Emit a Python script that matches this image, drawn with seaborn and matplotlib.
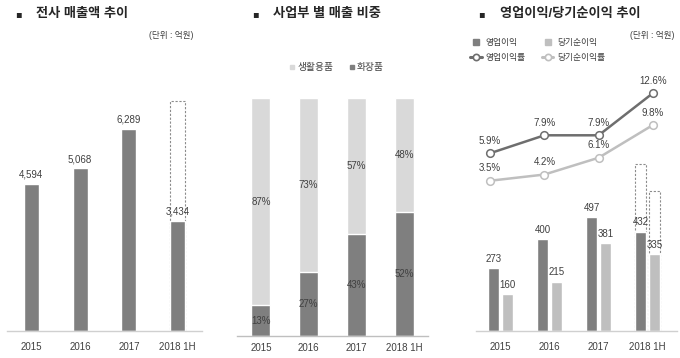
import numpy as np
import pandas as pd
import seaborn as sns
import matplotlib.pyplot as plt
from matplotlib.lines import Line2D

# data
years = ["2015", "2016", "2017", "2018 1H"]
sales = [4594, 5068, 6289, 3434]
sales_ghost = 7170          # dashed outline on 2018 1H

share_house = [87, 73, 57, 48]   # 생활용품
share_cosm = [13, 27, 43, 52]    # 화장품

op_profit = [273, 400, 497, 432]
net_profit = [160, 215, 381, 335]
op_ghost = 726
net_ghost = 609
op_margin = [5.9, 7.9, 7.9, 12.6]
net_margin = [3.5, 4.2, 6.1, 9.8]

DARK = "#7f7f7f"
LIGHT = "#d9d9d9"
MID = "#bfbfbf"
LINE_DARK = "#6e6e6e"
TXT = "#404040"
AXIS = "#d0d0d0"

sns.set_theme(style="white")
plt.rcParams["font.family"] = ["Liberation Sans", "Noto Sans CJK KR", "DejaVu Sans"]

W, H = 680, 358
fig = plt.figure(figsize=(6.8, 3.58), dpi=100)


def px_axes(x0, x1, y_top, y_bot):
    return fig.add_axes([x0 / W, 1 - y_bot / H, (x1 - x0) / W, (y_bot - y_top) / H])


def px_text(x, y, s, **kw):
    fig.text(x / W, 1 - y / H, s, **kw)


def clean(ax, spine_color=AXIS, pad=8):
    for side in ["left", "top", "right"]:
        ax.spines[side].set_visible(False)
    ax.spines["bottom"].set_color(spine_color)
    ax.spines["bottom"].set_linewidth(1)
    ax.set_yticks([])
    ax.set_xlabel("")
    ax.set_ylabel("")
    ax.tick_params(axis="x", length=0, pad=pad, labelsize=7, labelcolor=TXT)
    ax.patch.set_alpha(0)


# titles
titles = [(15, 36, "전사 매출액 추이"), (252, 273, "사업부 별 매출 비중"), (478, 500, "영업이익/당기순이익 추이")]
for bx, tx, t in titles:
    px_text(bx, 14, "▪", fontsize=7, color="#262626", va="center",
            family=["DejaVu Sans"])
    px_text(tx, 14, t, fontsize=9.5, fontweight="bold", color="#262626", va="center")

px_text(171, 35, "(단위 : 억원)", fontsize=6.2, color=TXT, ha="center", va="center")
px_text(652, 36, "(단위 : 억원)", fontsize=6.2, color=TXT, ha="center", va="center")

# 1. 전사 매출액
ax1 = px_axes(7, 202, 90, 331)
sns.barplot(x=years, y=sales, color=DARK, width=0.31, saturation=1, ax=ax1, zorder=2)
last = ax1.patches[-1]
ax1.bar(last.get_x() + last.get_width() / 2, sales_ghost, width=last.get_width(),
        fill=False, linestyle=(0, (2, 1.5)), edgecolor="#8c8c8c", linewidth=0.8, zorder=1)
ax1.bar_label(ax1.containers[0], labels=[f"{v:,}" for v in sales], padding=3,
              fontsize=7, color=TXT)
ax1.set_ylim(0, 7508)
ax1.set_xlim(-0.5, 3.5)
clean(ax1)

# 2. 사업부 별 매출 비중
ax2 = px_axes(237, 428, 98, 336)
total = [h + c for h, c in zip(share_house, share_cosm)]
sns.barplot(x=years, y=total, color=LIGHT, width=0.4, saturation=1, ax=ax2)
sns.barplot(x=years, y=share_cosm, color=DARK, width=0.4, saturation=1, ax=ax2)
ax2.bar_label(ax2.containers[1], labels=[f"{v}%" for v in share_cosm],
              label_type="center", fontsize=7, color=TXT)
for p, c, h in zip(ax2.containers[0], share_cosm, share_house):
    ax2.text(p.get_x() + p.get_width() / 2, c + h / 2, f"{h}%", ha="center",
             va="center", fontsize=7, color=TXT)
ax2.set_ylim(0, 100)
ax2.set_xlim(-0.5, 3.5)
clean(ax2, MID, pad=5)
ax2.set_xticks(np.arange(-0.5, 4, 1), minor=True)
ax2.tick_params(axis="x", which="minor", length=4, width=1, color=MID, direction="out")
h2 = [Line2D([], [], ls="", marker="s", markersize=3, color=LIGHT),
      Line2D([], [], ls="", marker="s", markersize=3, color=DARK)]
ax2.legend(h2, ["생활용품", "화장품"], loc="center", bbox_to_anchor=(337 / W, 1 - 67 / H),
           bbox_transform=fig.transFigure, ncol=2, frameon=False, fontsize=7,
           handlelength=0.5, handletextpad=0.3, columnspacing=1.6, labelcolor=TXT)

# 3. 영업이익 / 당기순이익
ax3 = px_axes(476, 677, 40, 331)
df3 = pd.DataFrame({"year": years * 2,
                    "value": op_profit + net_profit,
                    "kind": ["영업이익"] * 4 + ["당기순이익"] * 4})
sns.barplot(df3, x="year", y="value", hue="kind", palette=[DARK, MID], width=0.572,
            gap=0.21, saturation=1, ax=ax3, legend=False, zorder=2)
for cont, ghost in zip(ax3.containers, [op_ghost, net_ghost]):
    p = cont[-1]
    ax3.bar(p.get_x() + p.get_width() / 2, ghost, width=p.get_width(), fill=False,
            linestyle=(0, (2, 1.5)), edgecolor="#8c8c8c", linewidth=0.8, zorder=1)
for cont, vals in zip(ax3.containers[:2], [op_profit, net_profit]):
    ax3.bar_label(cont, labels=[str(v) for v in vals], padding=3, fontsize=7, color=TXT)
ax3.set_ylim(0, 1265)
ax3.set_xlim(-0.5, 3.6)
clean(ax3)

# margin lines on their own overlay axes
axA = px_axes(463, 680, 40, 331)
axB = px_axes(463, 680, 40, 331)
for axl, vals, col, lim in [(axA, op_margin, LINE_DARK, (-13.93, 18.53)),
                            (axB, net_margin, MID, (-13.5, 19.42))]:
    sns.lineplot(x=years, y=vals, sort=False, color=col, linewidth=1.8, marker="o",
                 markersize=5.5, markerfacecolor="white", markeredgecolor=col,
                 markeredgewidth=1.1, ax=axl)
    for i, v in enumerate(vals):
        axl.annotate(f"{v}%", (i, v), xytext=(0, 9), textcoords="offset points",
                     ha="center", va="center", fontsize=7, color=TXT)
    axl.set_xlim(-0.5, 3.5)
    axl.set_ylim(*lim)
    axl.axis("off")

h3 = [Line2D([], [], ls="", marker="s", markersize=5, color=DARK),
      Line2D([], [], color=LINE_DARK, lw=2.2, marker="o", markersize=4.5,
             markerfacecolor="white", markeredgewidth=1.2),
      Line2D([], [], ls="", marker="s", markersize=5, color=MID),
      Line2D([], [], color=MID, lw=2.2, marker="o", markersize=4.5,
             markerfacecolor="white", markeredgewidth=1.2)]
ax3.legend(h3, ["영업이익", "영업이익률", "당기순이익", "당기순이익률"], loc="upper left",
           bbox_to_anchor=(466 / W, 1 - 34 / H), bbox_transform=fig.transFigure,
           ncol=2, frameon=False, fontsize=6.3, handlelength=1.3, handletextpad=0.4,
           columnspacing=1.9, labelspacing=0.6, labelcolor=TXT, borderpad=0)

fig.savefig("out.png", dpi=100)
